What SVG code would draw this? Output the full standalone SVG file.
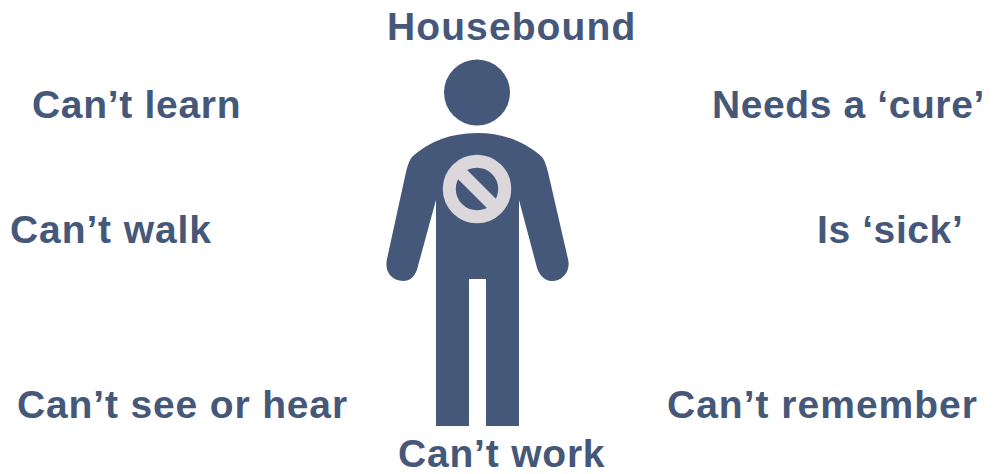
<svg xmlns="http://www.w3.org/2000/svg" width="994" height="474" viewBox="0 0 994 474">
<style>
text{font-family:"Liberation Sans",Arial,sans-serif;font-weight:700;font-size:39px;letter-spacing:.9px;fill:#46587a}
.b{fill:#46587a}
</style>
<rect width="994" height="474" fill="#fff"/>
<g id="person">
<circle class="b" cx="477" cy="92.5" r="33"/>
<path class="b" d="M477 133C450 133 429 142 413 156C409 160 408 165 406 172L387 259C384 272 392 281 403 281C411 281 416 275 418 266L436 200V426H469V279H486V426H519V200L536 264C538 274 544 281 552 281C563 281 571 271 568 259L548 172C546 165 545 160 541 156C525 142 504 133 477 133Z"/>
</g>
<g id="no-symbol">
<circle cx="477" cy="189" r="27.7" fill="none" stroke="#dbd7da" stroke-width="13"/>
<path d="M458 170L496 208" stroke="#dbd7da" stroke-width="13" fill="none"/>
</g>
<g id="labels">
<text x="387" y="40" style="letter-spacing:1.1px">Housebound</text>
<text x="32" y="118" style="letter-spacing:.7px">Can’t learn</text>
<text x="712" y="118" style="letter-spacing:.6px">Needs a ‘cure’</text>
<text x="10" y="243">Can’t walk</text>
<text x="817" y="243" style="letter-spacing:.6px">Is ‘sick’</text>
<text x="17" y="418" style="letter-spacing:.85px">Can’t see or hear</text>
<text x="667" y="418" style="letter-spacing:1px">Can’t remember</text>
<text x="398" y="467" style="letter-spacing:.8px">Can’t work</text>
</g>
</svg>
